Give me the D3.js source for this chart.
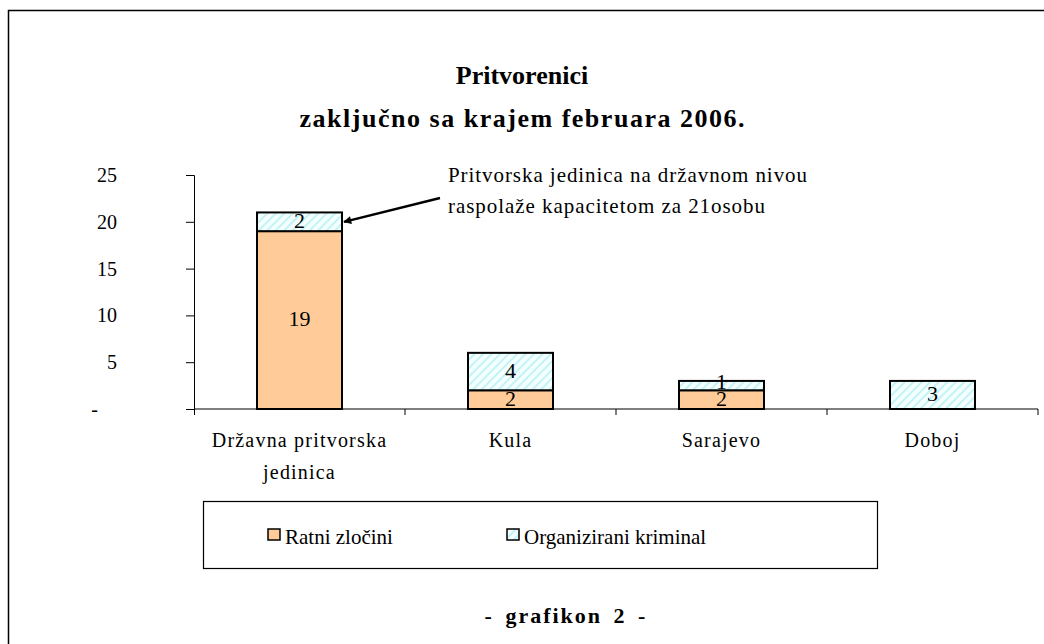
<!DOCTYPE html>
<html>
<head>
<meta charset="utf-8">
<script src="https://cdn.jsdelivr.net/npm/d3@7"></script>
<style>
  body { margin: 0; background: #fff; }
  svg text { font-family: "Liberation Serif", "Times New Roman", serif; }
</style>
</head>
<body>
<svg id="chart" width="1044" height="644"></svg>
<script>
// data
const categories = ['Državna pritvorska|jedinica', 'Kula', 'Sarajevo', 'Doboj']
const ratniZlocini = [19, 2, 2, 0]
const organiziraniKriminal = [2, 4, 1, 3]
const seriesNames = ['Ratni zločini', 'Organizirani kriminal']
const yTicks = [0, 5, 10, 15, 20, 25]

const svg = d3.select('#chart')
const margin = { top: 175, left: 194, right: 6, bottom: 235 }
const width = 1044 - margin.left - margin.right
const height = 644 - margin.top - margin.bottom

// hatch for organised crime
const defs = svg.append('defs')
const pat = defs.append('pattern')
    .attr('id', 'hatch')
    .attr('patternUnits', 'userSpaceOnUse')
    .attr('width', 6).attr('height', 6)
    .attr('patternTransform', 'rotate(45)')
pat.append('rect').attr('width', 6).attr('height', 6).attr('fill', '#f4ffff')
pat.append('rect').attr('width', 2).attr('height', 6).attr('fill', '#c4f2f5')

defs.append('marker')
    .attr('id', 'arrow')
    .attr('viewBox', '0 0 10 10')
    .attr('refX', 9).attr('refY', 5)
    .attr('markerWidth', 10).attr('markerHeight', 8)
    .attr('markerUnits', 'userSpaceOnUse')
    .attr('orient', 'auto')
  .append('path')
    .attr('d', 'M0,0 L10,5 L0,10 Z')
    .attr('fill', '#000')

// outer frame (right and bottom are cut off in the original)
svg.append('path')
    .attr('d', 'M8.5,648 V10.5 H1050')
    .attr('fill', 'none')
    .attr('stroke', '#000')
    .attr('stroke-width', 1.5)

// title
svg.append('text')
    .attr('x', 522).attr('y', 84)
    .attr('text-anchor', 'middle')
    .attr('font-size', '26px').attr('font-weight', 'bold')
    .text('Pritvorenici')
svg.append('text')
    .attr('x', 522).attr('y', 127)
    .attr('text-anchor', 'middle')
    .attr('font-size', '26px').attr('font-weight', 'bold')
    .attr('textLength', 445).attr('lengthAdjust', 'spacing')
    .text('zaključno sa krajem februara 2006.')

const g = svg.append('g')
    .attr('transform', `translate(${margin.left}, ${margin.top})`)

const x = d3.scaleBand()
    .domain(categories)
    .range([0, width])

const y = d3.scaleLinear()
    .domain([0, 25])
    .range([height, 0])

const stackData = categories.map((c, i) => ({ cat: c, r: ratniZlocini[i], o: organiziraniKriminal[i] }))
const stack = d3.stack().keys(['r', 'o'])(stackData)
const fills = ['#ffcc99', 'url(#hatch)']

const barW = 85

// y axis
const yAxis = g.append('g')
    .call(d3.axisLeft(y).tickValues(yTicks).tickSize(8).tickFormat(d => d === 0 ? '-' : d))
yAxis.attr('font-family', null)
yAxis.select('.domain').attr('stroke', '#000').attr('d', `M-8,0.5 H0.5 V${height + 6}`)
yAxis.selectAll('.tick line').attr('stroke', '#000')
yAxis.selectAll('.tick text')
    .attr('x', -77)
    .attr('font-size', '20px')
    .attr('fill', '#000')
yAxis.selectAll('.tick').filter(d => d === 0).select('text').attr('x', -96)

// x axis
const xAxis = g.append('g')
    .attr('transform', `translate(0, ${height})`)
xAxis.append('line')
    .attr('x1', 0).attr('x2', width)
    .attr('stroke', '#000').attr('stroke-width', 1.2)
xAxis.selectAll('.xtick')
    .data(categories.slice(1).map(c => x(c)).concat([width]))
    .enter().append('line')
    .attr('x1', d => d).attr('x2', d => d)
    .attr('y1', 0).attr('y2', 6)
    .attr('stroke', '#000')
xAxis.selectAll('.xlab')
    .data(categories)
    .enter().append('text')
    .attr('text-anchor', 'middle')
    .attr('font-size', '20px')
    .attr('letter-spacing', '1.2px')
    .each(function (d) {
        const lines = d.split('|')
        d3.select(this).selectAll('tspan')
            .data(lines)
            .enter().append('tspan')
            .attr('x', x(d) + x.bandwidth() / 2)
            .attr('y', (l, i) => 38 + i * 32)
            .text(l => l)
    })

// bars
stack.forEach((layer, li) => {
    g.append('g').selectAll('rect')
        .data(layer.filter(d => d[1] > d[0]))
        .enter().append('rect')
        .attr('x', d => x(d.data.cat) + (x.bandwidth() - barW) / 2)
        .attr('y', d => y(d[1]))
        .attr('width', barW)
        .attr('height', d => y(d[0]) - y(d[1]))
        .attr('fill', fills[li])
        .attr('stroke', '#000')
        .attr('stroke-width', 2)

    g.append('g').selectAll('text')
        .data(layer.filter(d => d[1] > d[0]))
        .enter().append('text')
        .attr('x', d => x(d.data.cat) + x.bandwidth() / 2)
        // thin segments: label sits a little high, like the original
        .attr('y', d => (y(d[0]) + y(d[1])) / 2 + (y(d[0]) - y(d[1]) < 12 ? 3 : 6))
        .attr('text-anchor', 'middle')
        .attr('font-size', '22px')
        .text(d => d[1] - d[0])
})

// annotation
const noteLines = ['Pritvorska jedinica na državnom nivou', 'raspolaže kapacitetom za 21osobu']
const noteWidths = [359, 317]
svg.append('g').selectAll('text')
    .data(noteLines)
    .enter().append('text')
    .attr('font-size', '21px')
    .attr('x', 448)
    .attr('y', (d, i) => 182 + i * 31)
    .attr('textLength', (d, i) => noteWidths[i])
    .attr('lengthAdjust', 'spacing')
    .text(d => d)

const arrowStart = [440, 198]
const arrowEnd = [margin.left + x(categories[0]) + (x.bandwidth() + barW) / 2 + 2, margin.top + y(20)]
svg.append('line')
    .attr('x1', arrowStart[0]).attr('y1', arrowStart[1])
    .attr('x2', arrowEnd[0]).attr('y2', arrowEnd[1])
    .attr('stroke', '#000').attr('stroke-width', 2.4)
    .attr('marker-end', 'url(#arrow)')

// legend
const legend = svg.append('g')
legend.append('rect')
    .attr('x', 203.5).attr('y', 501.5)
    .attr('width', 674).attr('height', 67)
    .attr('fill', '#fff').attr('stroke', '#000').attr('stroke-width', 1.2)
const legX = [268, 507]
seriesNames.forEach((name, i) => {
    legend.append('rect')
        .attr('x', legX[i]).attr('y', 529)
        .attr('width', 12).attr('height', 11)
        .attr('fill', i === 0 ? '#ffcc99' : 'url(#hatch)')
        .attr('stroke', '#000').attr('stroke-width', 1.5)
    legend.append('text')
        .attr('x', legX[i] + 17).attr('y', 544)
        .attr('font-size', '21px')
        .text(name)
})

// footer
svg.append('text')
    .attr('x', 566).attr('y', 623)
    .attr('text-anchor', 'middle')
    .attr('font-size', '22px').attr('font-weight', 'bold')
    .attr('letter-spacing', '2px')
    .attr('word-spacing', '4px')
    .text('- grafikon 2 -')
</script>
</body>
</html>
